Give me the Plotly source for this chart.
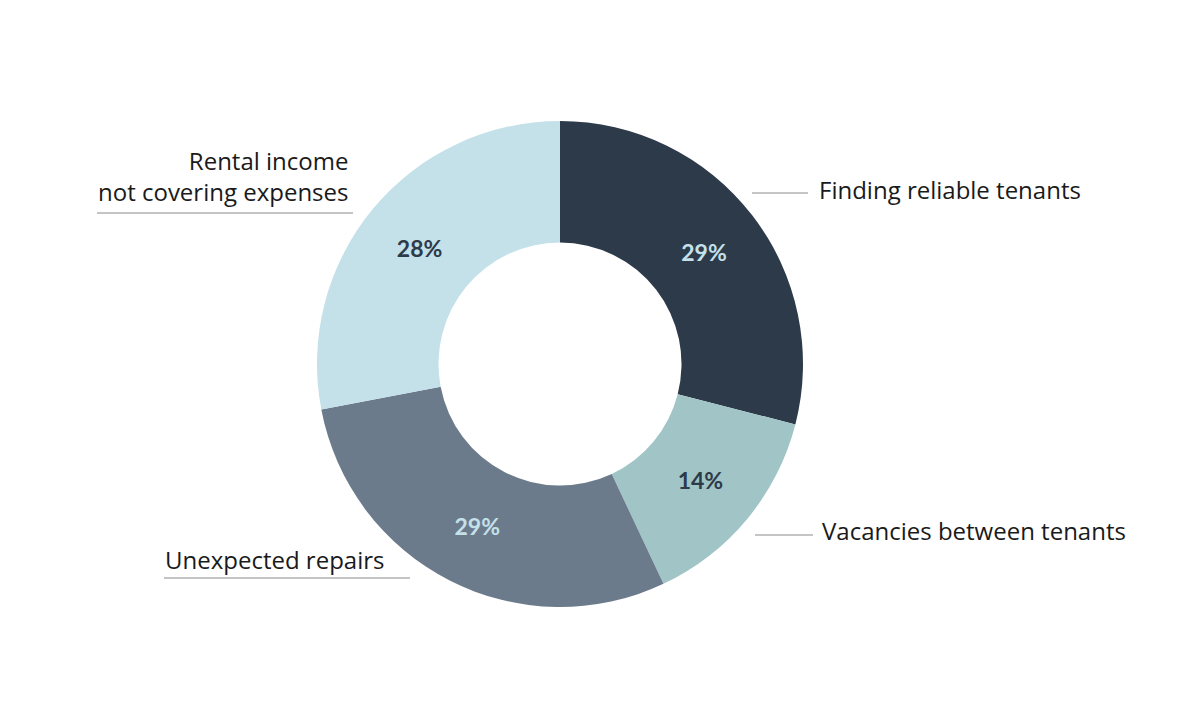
import plotly.graph_objects as go

# survey shares, clockwise from 12 o'clock
categories = [
    "Finding reliable tenants",
    "Vacancies between tenants",
    "Unexpected repairs",
    "Rental income<br>not covering expenses",
]
shares = [29, 14, 29, 28]
slice_colors = ["#2d3a4a", "#a1c5c6", "#6b7b8c", "#c4e1ea"]
text_colors = ["#c4e1ea", "#2d3a4a", "#c4e1ea", "#2d3a4a"]

W, H = 1200, 720
OFF = 8  # page body margin in the browser
cx, cy, r = 560, 364, 243


def px(x):
    return (x - OFF) / W


def py(y):
    return 1 - (y - OFF) / H


fig = go.Figure(go.Pie(
    labels=categories,
    values=shares,
    hole=0.5,
    sort=False,
    direction="clockwise",
    rotation=0,
    marker=dict(colors=slice_colors, line=dict(width=0)),
    texttemplate="%{value}%",
    textposition="inside",
    insidetextorientation="horizontal",
    textfont=dict(family="Lato", size=23, color=text_colors, weight="bold"),
    hoverinfo="label+value",
    showlegend=False,
    domain=dict(x=[px(cx - r), px(cx + r)], y=[py(cy + r), py(cy - r)]),
))

label_font = dict(family="Open Sans", size=24, color="#1a1a1a")

# outside labels: (text, x, y, anchor)
annots = [
    (categories[0], 817, 189, "left"),
    (categories[1], 820, 530, "left"),
    (categories[2], 163, 559, "left"),
    (categories[3], 350, 176, "right"),
]
for txt, x, y, anchor in annots:
    fig.add_annotation(
        text=txt, x=px(x), y=py(y), xref="paper", yref="paper",
        xanchor=anchor, yanchor="middle", align=anchor,
        showarrow=False, font=label_font,
    )

# leader / underline segments
lines = [
    (752, 808, 193),
    (755, 813, 535),
    (164, 410, 578),
    (97, 353, 213),
]
for x0, x1, y in lines:
    fig.add_shape(
        type="line", xref="paper", yref="paper",
        x0=px(x0), x1=px(x1), y0=py(y), y1=py(y),
        line=dict(color="#8a8a8a", width=1),
    )

fig.update_layout(
    width=W, height=H,
    margin=dict(l=0, r=0, t=0, b=0),
    paper_bgcolor="white",
    plot_bgcolor="white",
)

fig.write_html("out.html")
